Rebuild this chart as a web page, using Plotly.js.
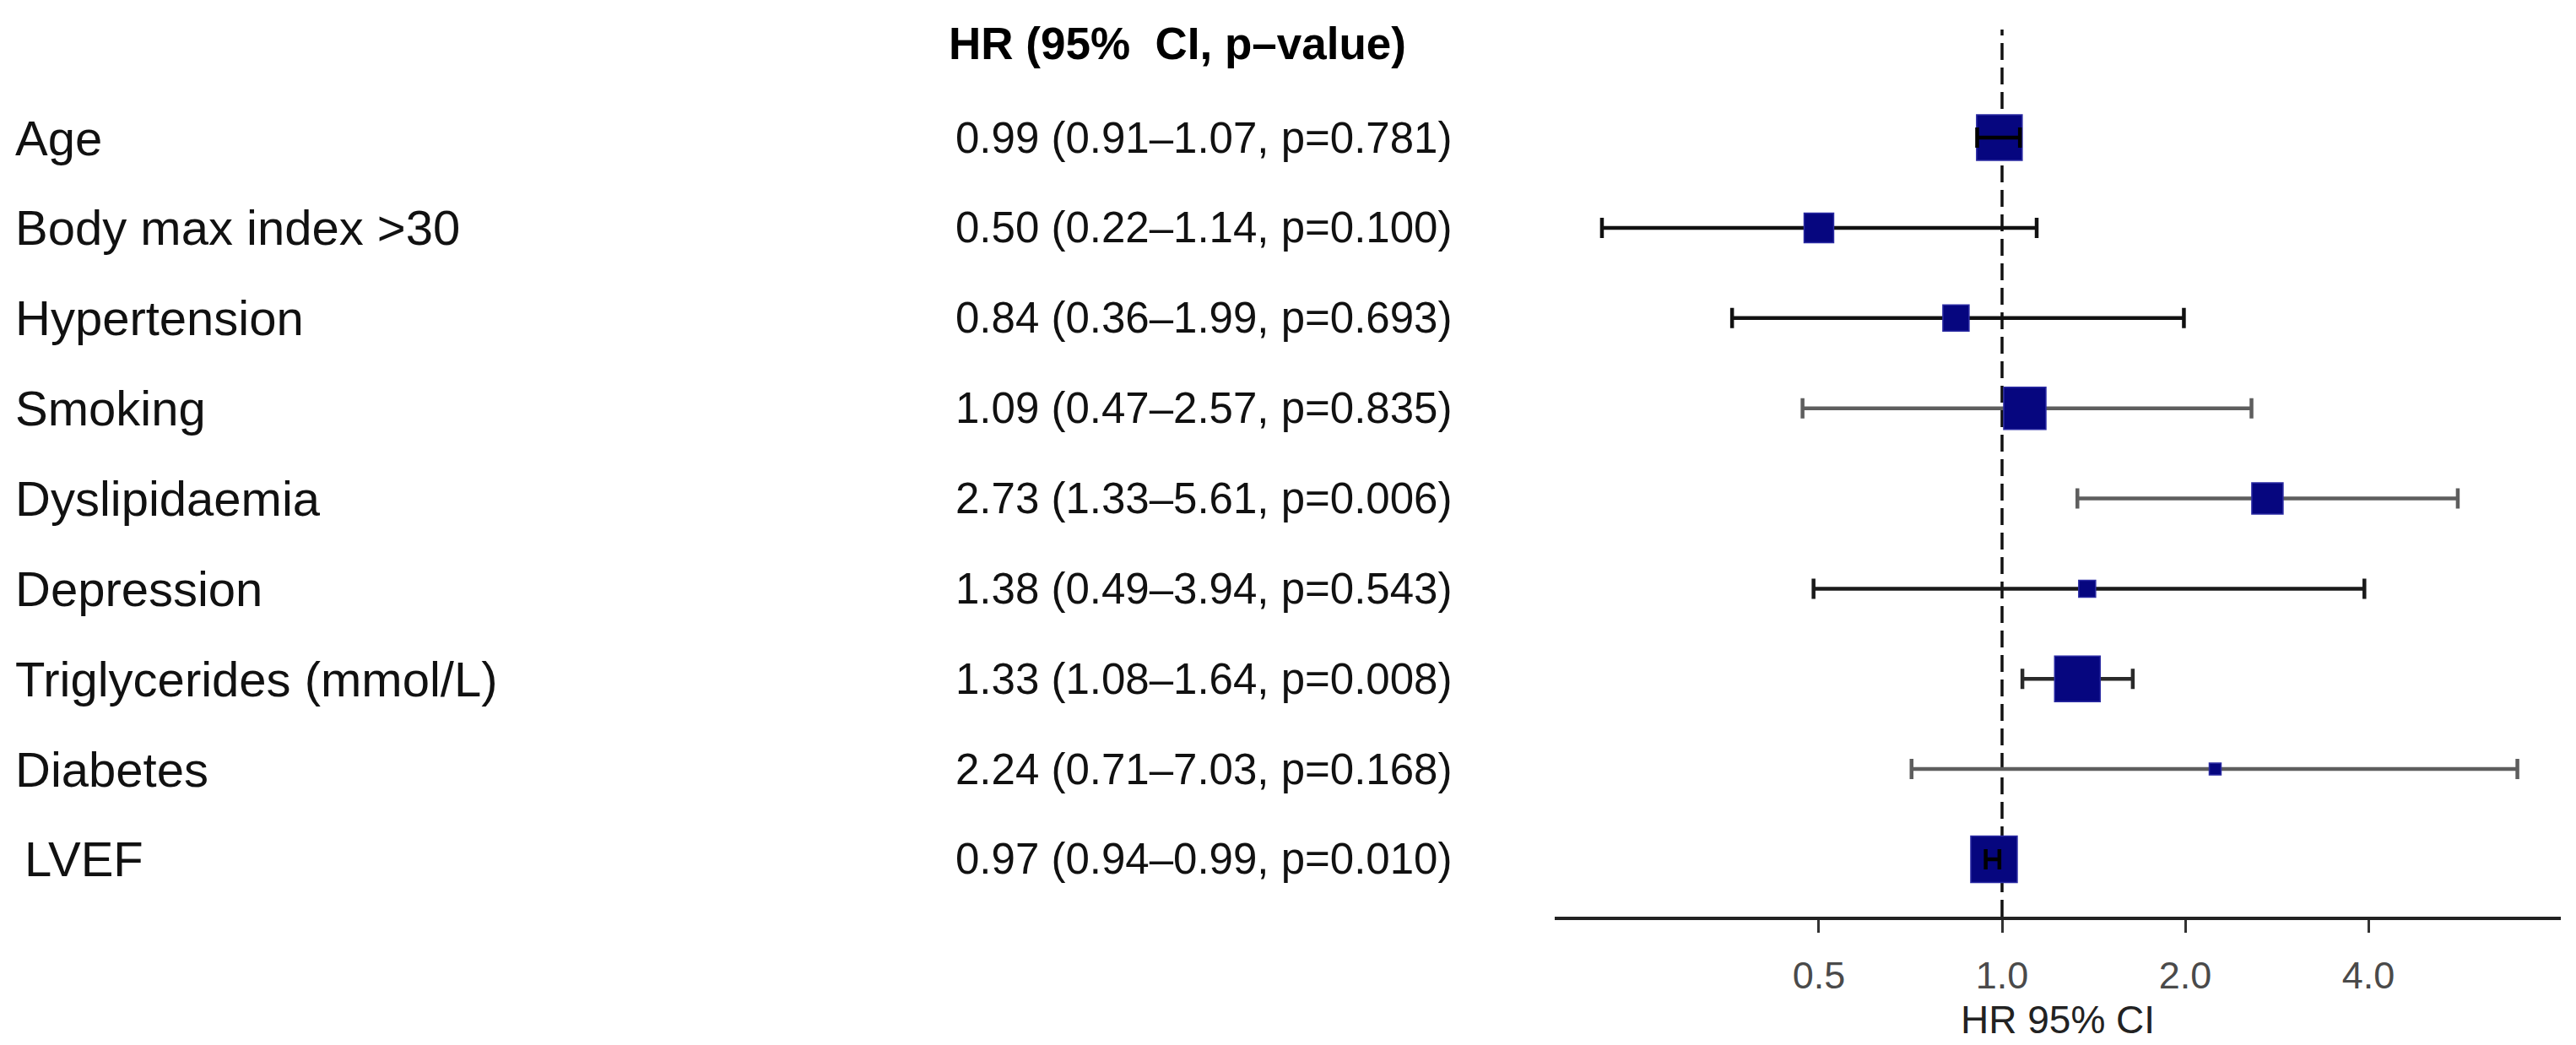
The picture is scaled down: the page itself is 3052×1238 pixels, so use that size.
<!DOCTYPE html>
<html>
<head>
<meta charset="utf-8">
<script src="https://cdn.plot.ly/plotly-3.0.1.min.js"></script>
<style>
  html, body { margin: 0; padding: 0; background: #ffffff; }
  #chart { width: 3052px; height: 1238px; }
</style>
</head>
<body>
<div id="chart"></div>
<script>
// ---------------- data ----------------
const labels = ['Age', 'Body max index >30', 'Hypertension', 'Smoking', 'Dyslipidaemia',
                'Depression', 'Triglycerides (mmol/L)', 'Diabetes', 'LVEF'];
const hr      = [0.99, 0.50, 0.84, 1.09, 2.73, 1.38, 1.33, 2.24, 0.97];
const ciLow   = [0.91, 0.22, 0.36, 0.47, 1.33, 0.49, 1.08, 0.71, 0.94];
const ciHigh  = [1.07, 1.14, 1.99, 2.57, 5.61, 3.94, 1.64, 7.03, 0.99];
const pValues = ['0.781', '0.100', '0.693', '0.835', '0.006', '0.543', '0.008', '0.168', '0.010'];
const tickValues = [0.5, 1, 2, 4];
const tickLabels = ['0.5', '1.0', '2.0', '4.0'];
const headerText = 'HR (95%\u00a0 CI, p\u2013value)';
const axisTitleText = 'HR 95% CI';

// ---------------- styles ----------------
const boxSize  = [54, 35, 31, 50, 37, 20, 54, 14, 55];
const ciColor  = ['#000000', '#111111', '#111111', '#5e5e5e', '#5e5e5e', '#1a1a1a', '#2a2a2a', '#5e5e5e', '#000000'];
const ciOnTop  = [true, false, false, false, false, false, false, false, true];
const labelPx  = [16, 16, 16, 16, 16, 16, 16, 16, 27];
const FONT = 'Liberation Sans, Arial, Helvetica, sans-serif';

// plot area in pixels
const W = 3052, H = 1238;
const plotL = 1842, plotR = 3034, plotT = 35, plotB = 1086;
const pxToPaperX = px => (px - plotL) / (plotR - plotL);
const pxToPaperY = py => 1 - (py - plotT) / (plotB - plotT);

// ---------------- traces ----------------
const under = [], over = [];
labels.forEach((lab, i) => {
  const t = {
    type: 'scatter', mode: 'markers',
    x: [hr[i]], y: [lab],
    marker: { size: 1, opacity: 0 },
    error_x: {
      type: 'data', symmetric: false,
      array: [ciHigh[i] - hr[i]],
      arrayminus: [hr[i] - ciLow[i]],
      color: ciColor[i], thickness: 4.5, width: 12
    },
    hoverinfo: 'skip', showlegend: false
  };
  (ciOnTop[i] ? over : under).push(t);
});

const boxes = {
  type: 'scatter', mode: 'markers',
  x: hr, y: labels,
  marker: {
    symbol: 'square', size: boxSize, color: '#06067f', opacity: 1,
    line: { color: '#2b2ba3', width: 1.5 }
  },
  hoverinfo: 'skip', showlegend: false
};

const data = [...under, boxes, ...over];

// ---------------- annotations ----------------
const annotations = [];
labels.forEach((lab, i) => {
  annotations.push({
    xref: 'paper', yref: 'y', x: pxToPaperX(labelPx[i]), y: lab,
    xanchor: 'left', yanchor: 'middle', showarrow: false,
    text: lab, font: { family: FONT, size: 58, color: '#111111' }
  });
  const txt = hr[i].toFixed(2) + ' (' + ciLow[i].toFixed(2) + '\u2013' + ciHigh[i].toFixed(2) +
              ', p=' + pValues[i] + ')';
  annotations.push({
    xref: 'paper', yref: 'y', x: pxToPaperX(1722), y: lab,
    xanchor: 'right', yanchor: 'middle', showarrow: false,
    text: txt, font: { family: FONT, size: 51, color: '#111111' }
  });
});
annotations.push({
  xref: 'paper', yref: 'paper', x: pxToPaperX(1395), y: pxToPaperY(52),
  xanchor: 'center', yanchor: 'middle', showarrow: false,
  text: '<b>' + headerText + '</b>', font: { family: FONT, size: 53, color: '#000000' }
});
annotations.push({
  xref: 'paper', yref: 'paper', x: 0.5, y: pxToPaperY(1208),
  xanchor: 'center', yanchor: 'middle', showarrow: false,
  text: axisTitleText, font: { family: FONT, size: 46, color: '#222222' }
});

// ---------------- layout ----------------
const xRange = [(plotL - 2372) / 720.9, (plotR - 2372) / 720.9];
const rowPx = 106.85;
const yRange = [labels.length - 1 + (plotB - 1018) / rowPx, -(163 - plotT) / rowPx];

const layout = {
  width: W, height: H,
  margin: { l: plotL, r: W - plotR, t: plotT, b: H - plotB, pad: 0 },
  paper_bgcolor: '#ffffff', plot_bgcolor: '#ffffff',
  showlegend: false,
  xaxis: {
    type: 'log', range: xRange,
    tickmode: 'array', tickvals: tickValues, ticktext: tickLabels,
    ticks: 'outside', ticklen: 15, tickwidth: 3, tickcolor: '#333333',
    ticklabelstandoff: 12,
    tickfont: { family: FONT, size: 45, color: '#4a4a4a' },
    showline: true, linewidth: 4, linecolor: '#222222',
    showgrid: false, zeroline: false, fixedrange: true
  },
  yaxis: {
    type: 'category', categoryorder: 'array', categoryarray: labels,
    range: yRange, visible: false, showgrid: false, zeroline: false, fixedrange: true
  },
  shapes: [{
    type: 'line', layer: 'below', xref: 'x', yref: 'paper',
    x0: 1, x1: 1, y0: 0, y1: 1,
    line: { color: '#111111', width: 3.5, dash: '20px,9px' }
  }],
  annotations: annotations
};

Plotly.newPlot('chart', data, layout, { displayModeBar: false, staticPlot: true });
</script>
</body>
</html>
